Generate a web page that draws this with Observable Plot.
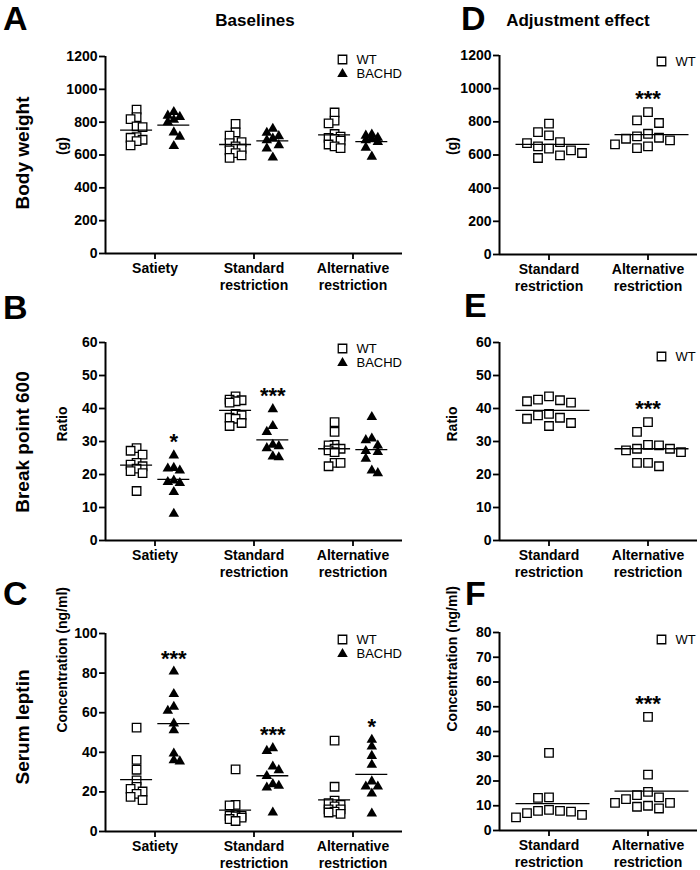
<!DOCTYPE html>
<html><head><meta charset="utf-8">
<script src="https://cdn.jsdelivr.net/npm/d3@7"></script>
<script src="https://cdn.jsdelivr.net/npm/@observablehq/plot@0.6"></script>
<style>
body{margin:0;background:#fff;}
#fig{position:relative;width:700px;height:870px;font-family:"Liberation Sans",Arial,Helvetica,sans-serif;color:#000;overflow:hidden;}
.lbl{position:absolute;font-weight:bold;white-space:nowrap;line-height:1;}
.letter{font-size:34px;}
.coltitle{font-size:17px;transform:translate(-50%,-50%);}
.rowtitle{font-size:19px;transform:translate(-50%,-50%) rotate(-90deg);}
.panel{position:absolute;}
</style></head><body><div id="fig"></div>
<script>
// ---------- data ----------
const baselineCategories = ["Satiety", "Standard restriction", "Alternative restriction"];
const adjustmentCategories = ["Standard restriction", "Alternative restriction"];
const genotypes = ["WT", "BACHD"];

const weightWT_satiety = [876, 831, 819, 774, 770, 709, 705, 693, 685, 659];
const weightWT_standard = [789, 738, 718, 678, 672, 652, 638, 628, 612, 598, 582];
const weightWT_alternative = [859, 809, 793, 728, 712, 704, 698, 688, 664, 652, 642];
const weightBACHD_satiety = [862, 840, 832, 815, 800, 738, 712, 655];
const weightBACHD_standard = [760, 735, 715, 700, 690, 660, 640, 585];
const weightBACHD_alternative = [725, 718, 705, 700, 690, 680, 645, 590];

const ratioWT_satiety = [28, 27.2, 26, 23.5, 23, 22.5, 21.8, 21, 20.4, 15];
const ratioWT_standard = [43.7, 42.7, 42.5, 42.2, 41.8, 38.4, 37.9, 37.2, 36.9, 35.6, 34.7];
const ratioWT_alternative = [35.9, 32.9, 29.0, 28.8, 27.8, 27.8, 27.3, 26.8, 23.5, 23.5, 22.5];
const ratioBACHD_satiety = [25.8, 22, 21.8, 21.2, 18.2, 17.7, 17.4, 14.7, 8.1];
const ratioBACHD_standard = [39.8, 34.7, 32.9, 29.0, 28.6, 28.0, 25.5, 25.2];
const ratioBACHD_alternative = [37.4, 30.9, 30.4, 28.8, 27.1, 26.8, 24.8, 21.2, 20.4];

const leptinWT_satiety = [52.5, 36.2, 31.2, 25.8, 22.5, 21.5, 20.2, 19, 17.5, 15.8];
const leptinWT_standard = [31.4, 13.4, 13.2, 8.3, 7.9, 7.9, 7.6, 7.0, 6.3, 5.3];
const leptinWT_alternative = [45.9, 22.6, 15.6, 14.3, 13.4, 12.7, 11.2, 11.2, 10.0, 9.6, 8.9];
const leptinBACHD_satiety = [80.8, 69.4, 63, 61, 54.5, 51.2, 39.4, 36, 35.4];
const leptinBACHD_standard = [42.1, 40.7, 32.8, 31, 28, 23.9, 23.1, 22.2, 9.6];
const leptinBACHD_alternative = [46.3, 42.9, 38.2, 33.7, 25.3, 22.7, 22.7, 19.2, 9.1];

// significance marks
const weightStarsWT = ["", "", ""];
const weightStarsBACHD = ["", "", ""];
const ratioStarsWT = ["", "", ""];
const ratioStarsBACHD = ["*", "***", ""];
const leptinStarsWT = ["", "", ""];
const leptinStarsBACHD = ["***", "***", "*"];
const weightStarsAdj = ["", "***"];
const ratioStarsAdj = ["", "***"];
const leptinStarsAdj = ["", "***"];

const weightTicks = [0, 200, 400, 600, 800, 1000, 1200];
const ratioTicks = [0, 10, 20, 30, 40, 50, 60];
const leptinTicks = [0, 20, 40, 60, 80, 100];
const leptinAdjTicks = [0, 10, 20, 30, 40, 50, 60, 70, 80];

const rowTitles = ["Body weight", "Break point 600", "Serum leptin"];
const yLabels = ["(g)", "Ratio", "Concentration (ng/ml)"];
const columnTitles = ["Baselines", "Adjustment effect"];
const panelLetters = ["A", "B", "C", "D", "E", "F"];

// ---------- drawing ----------
const FONT = '"Liberation Sans", Arial, Helvetica, sans-serif';
const SYM = {
  WT: {symbol: "square", fill: "white", stroke: "black", r: 4.8, strokeWidth: 1.3},
  BACHD: {symbol: "triangle", fill: "black", stroke: "none", r: 3.9}
};

// GraphPad-like scatter: greedy placement into horizontal slots avoiding collisions
function spread(values, pxPerUnit, size, spacing, maxHalf) {
  const sorted = values.slice().sort((a, b) => b - a);
  const placed = [];
  const ks = [];
  for (let k = 1; k * spacing <= maxHalf + 1e-6; k++) ks.push(k * spacing);
  sorted.forEach(v => {
    const y = v * pxPerUnit;
    const left = placed.filter(p => p.off < 0).length, right = placed.filter(p => p.off > 0).length;
    const preferLeft = left <= right;
    const slots = [0];
    ks.forEach(o => preferLeft ? slots.push(-o, o) : slots.push(o, -o));
    let best = null, bestScore = -Infinity, bestSlot = 0;
    for (const off of slots) {
      const near = placed.filter(p => Math.abs(p.off - off) < size && Math.abs(p.y - y) < size);
      if (near.length === 0) { best = off; break; }
      const score = d3.min(near, p => Math.max(Math.abs(p.off - off), Math.abs(p.y - y)));
      if (score > bestScore) { bestScore = score; bestSlot = off; }
    }
    if (best === null) best = bestSlot;
    placed.push({off: best, y, value: v});
  });
  return placed;
}

function panel(cfg) {
  const {labels, series, yMax, yTicks, yLabel, width, height, ml, mr, mt, mb,
         shifts, halfLinePx, lineShiftPx, size, spacing, maxHalf, legDx, legDy, yLabelDx} = cfg;
  const n = labels.length;
  const fw = width - ml - mr, fh = height - mt - mb;
  const pxX = fw / n, pxY = fh / yMax;
  const pts = [], means = [], stars = [];
  series.forEach((s, gi) => {
    s.values.forEach((vals, ci) => {
      const base = ci + shifts[gi];
      spread(vals, pxY, size, spacing, maxHalf).forEach(d =>
        pts.push({x: base + d.off / pxX, y: d.value, g: s.name}));
      means.push({x1: base + (lineShiftPx - halfLinePx) / pxX, x2: base + (lineShiftPx + halfLinePx) / pxX, y: d3.mean(vals)});
      if (s.stars[ci]) stars.push({x: base, y: d3.max(vals), t: s.stars[ci]});
    });
  });
  const marks = [
    Plot.axisY({ticks: yTicks, tickFormat: d => String(d), label: null, tickSize: 6, tickPadding: 2,
                strokeWidth: 1.8, fontSize: 14, fontWeight: "bold"}),
    Plot.axisX({ticks: d3.range(n), tickFormat: i => labels[i], label: null, tickSize: 6, tickPadding: 2,
                strokeWidth: 1.8, fontSize: 14, fontWeight: "bold", lineHeight: 1.18}),
    Plot.ruleX([-0.5], {strokeWidth: 2}),
    Plot.ruleY([0], {strokeWidth: 2}),
  ];
  series.forEach(s => {
    marks.push(Plot.dot(pts.filter(p => p.g === s.name), {x: "x", y: "y", ...SYM[s.name]}));
  });
  marks.push(Plot.ruleY(means, {x1: "x1", x2: "x2", y: "y", strokeWidth: 1.3}));
  marks.push(Plot.text(stars, {x: "x", y: "y", text: "t", dy: -13, fontSize: 22, fontWeight: "bold"}));
  series.forEach((s, k) => {
    marks.push(Plot.dot([s.name], {frameAnchor: "top-right", dx: legDx, dy: legDy + k * 14.5, ...SYM[s.name]}));
    marks.push(Plot.text([s.name], {frameAnchor: "top-right", dx: legDx + 14, dy: legDy + k * 14.5,
      text: d => d, textAnchor: "start", lineAnchor: "middle", fontSize: 13, fontWeight: "normal"}));
  });
  marks.push(Plot.text([yLabel], {frameAnchor: "left", dx: yLabelDx, rotate: -90, text: d => d,
    lineAnchor: "middle", fontSize: 14, fontWeight: "bold"}));
  const svg = Plot.plot({
    width, height, marginLeft: ml, marginRight: mr, marginTop: mt, marginBottom: mb,
    style: {fontFamily: FONT, fontSize: "14px", color: "black", background: "white", overflow: "visible"},
    x: {type: "linear", domain: [-0.5, n - 0.5], axis: null},
    y: {domain: [0, yMax], axis: null},
    marks
  });
  svg.classList.add("panel");
  svg.style.left = cfg.left + "px";
  svg.style.top = cfg.top + "px";
  return svg;
}

const fig = document.getElementById("fig");
const baseLabels = ["Satiety", "Standard\nrestriction", "Alternative\nrestriction"];
const adjLabels = ["Standard\nrestriction", "Alternative\nrestriction"];
const leftGeom = {left: 0, width: 420, ml: 105, mr: 18, shifts: [-0.186, 0.19], halfLinePx: 16, lineShiftPx: 0,
                  size: 7, spacing: 6, maxHalf: 9, legDx: -60, yLabelDx: -43};
const rightGeom = {left: 420, width: 280, ml: 79, mr: 3, shifts: [0], halfLinePx: 37, lineShiftPx: 4,
                   size: 11, spacing: 11, maxHalf: 33, legDx: -36, yLabelDx: -47};

const wt = (vals, stars) => ({name: "WT", values: vals, stars});
const bachd = (vals, stars) => ({name: "BACHD", values: vals, stars});

fig.append(panel({...leftGeom, top: 40, height: 260, mt: 16, mb: 47, legDy: 3,
  labels: baseLabels, yMax: 1200, yTicks: weightTicks, yLabel: yLabels[0],
  series: [wt([weightWT_satiety, weightWT_standard, weightWT_alternative], weightStarsWT),
           bachd([weightBACHD_satiety, weightBACHD_standard, weightBACHD_alternative], weightStarsBACHD)]}));
fig.append(panel({...leftGeom, top: 320, height: 265, mt: 22, mb: 45, legDy: 6,
  labels: baseLabels, yMax: 60, yTicks: ratioTicks, yLabel: yLabels[1],
  series: [wt([ratioWT_satiety, ratioWT_standard, ratioWT_alternative], ratioStarsWT),
           bachd([ratioBACHD_satiety, ratioBACHD_standard, ratioBACHD_alternative], ratioStarsBACHD)]}));
fig.append(panel({...leftGeom, top: 600, height: 270, mt: 33, mb: 39, legDy: 6,
  labels: baseLabels, yMax: 100, yTicks: leptinTicks, yLabel: yLabels[2],
  series: [wt([leptinWT_satiety, leptinWT_standard, leptinWT_alternative], leptinStarsWT),
           bachd([leptinBACHD_satiety, leptinBACHD_standard, leptinBACHD_alternative], leptinStarsBACHD)]}));
fig.append(panel({...rightGeom, top: 40, height: 260, mt: 15, mb: 46, legDy: 6,
  labels: adjLabels, yMax: 1200, yTicks: weightTicks, yLabel: yLabels[0],
  series: [wt([weightWT_standard, weightWT_alternative], weightStarsAdj)]}));
fig.append(panel({...rightGeom, top: 320, height: 265, mt: 22, mb: 45, legDy: 14,
  labels: adjLabels, yMax: 60, yTicks: ratioTicks, yLabel: yLabels[1],
  series: [wt([ratioWT_standard, ratioWT_alternative], ratioStarsAdj)]}));
fig.append(panel({...rightGeom, top: 600, height: 270, mt: 32, mb: 40, legDy: 7,
  labels: adjLabels, yMax: 80, yTicks: leptinAdjTicks, yLabel: yLabels[2],
  series: [wt([leptinWT_standard, leptinWT_alternative], leptinStarsAdj)]}));

function addLabel(text, cls, left, top) {
  const d = document.createElement("div");
  d.className = "lbl " + cls;
  d.textContent = text;
  d.style.left = left + "px";
  d.style.top = top + "px";
  fig.append(d);
}
addLabel(columnTitles[0], "coltitle", 255, 20);
addLabel(columnTitles[1], "coltitle", 578, 20);
addLabel(rowTitles[0], "rowtitle", 22, 153);
addLabel(rowTitles[1], "rowtitle", 22, 442);
addLabel(rowTitles[2], "rowtitle", 22, 727);
[[0, 3, 1], [1, 3, 290], [2, 3, 576], [3, 461, 1], [4, 464, 288], [5, 465, 576]].forEach(([i, x, y]) =>
  addLabel(panelLetters[i], "letter", x, y));
</script></body></html>
